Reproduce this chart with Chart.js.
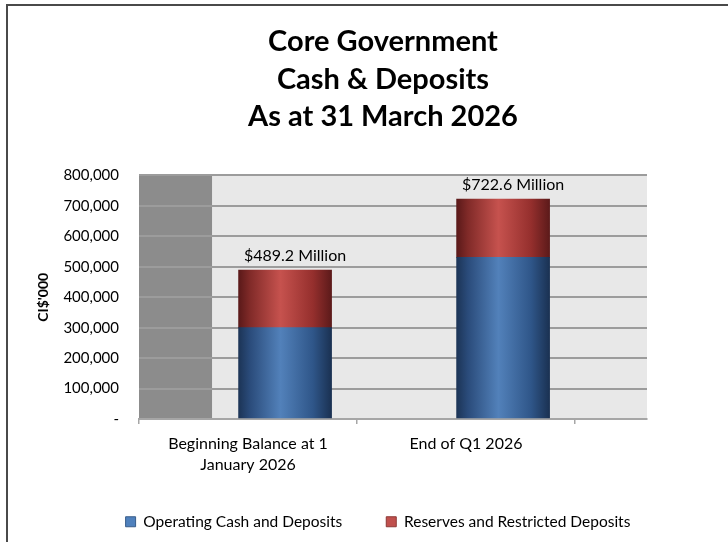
<!DOCTYPE html>
<html>
<head>
<meta charset="utf-8">
<title>Core Government Cash & Deposits</title>
<script src="https://cdn.jsdelivr.net/npm/chart.js@4"></script>
<style>
  html, body { margin: 0; padding: 0; background: #fff; overflow: hidden; }
  #frame {
    position: absolute; left: 6px; top: 4px;
    width: 750px; height: 560px;
    border-left: 2px solid #4a4a4a; border-top: 2px solid #4a4a4a;
  }
  canvas { display: block; }
</style>
</head>
<body>
<div id="frame"><canvas id="cashChart" width="750" height="560"></canvas></div>
<script>
// Balances in CI$'000
const categories = [["Beginning Balance at 1", "January 2026"], "End of Q1 2026"];
const operatingCash = [300000, 531000];
const reserves = [189200, 191600];
const seriesNames = ["Operating Cash and Deposits", "Reserves and Restricted Deposits"];

// x runs in category units; the grey wall covers the start of the first slot
const X_MAX = 2.33;
const WALL_END = 0.335;
const BAR_SHIFT = 0.17;
const BAR_WIDTH = 93;

const FONT = "Lato";

// left-to-right shading so the bars look like cylinders
function cylinder(stops, solid) {
  return (c) => {
    const chart = c.chart;
    if (c.type !== "data" || !chart.chartArea || !chart.scales.x) return solid;
    const cx = chart.scales.x.getPixelForValue(c.raw.x);
    const g = chart.ctx.createLinearGradient(cx - BAR_WIDTH / 2, 0, cx + BAR_WIDTH / 2, 0);
    stops.forEach(([at, col]) => g.addColorStop(at, col));
    return g;
  };
}

const blueStops = [[0, "#1c3456"], [0.12, "#2a4b7a"], [0.45, "#5281ba"], [0.8, "#2f5689"], [1, "#1a3152"]];
const redStops = [[0, "#5a1919"], [0.12, "#802a28"], [0.45, "#c6524e"], [0.8, "#952f2d"], [1, "#5c1a1a"]];

const toPoints = (vals) => vals.map((v, i) => ({ x: i + 0.5 + BAR_SHIFT, y: v }));

// light plot background with the dark wall on the left
const plotWall = {
  id: "plotWall",
  beforeDraw(chart) {
    const { ctx, chartArea: a, scales: { x } } = chart;
    ctx.save();
    ctx.fillStyle = "#e8e8e8";
    ctx.fillRect(a.left, a.top, a.width, a.height);
    ctx.fillStyle = "#8c8c8c";
    ctx.fillRect(a.left, a.top, x.getPixelForValue(WALL_END) - a.left, a.height);
    ctx.restore();
  }
};

// "$xxx.x Million" above each stack
const totalLabels = {
  id: "totalLabels",
  afterDatasetsDraw(chart) {
    const ctx = chart.ctx;
    const top = chart.getDatasetMeta(1);
    ctx.save();
    ctx.font = "16px " + FONT;
    ctx.fillStyle = "#000";
    ctx.textAlign = "center";
    ctx.textBaseline = "middle";
    top.data.forEach((bar, i) => {
      const total = operatingCash[i] + reserves[i];
      ctx.fillText("$" + (total / 1000).toFixed(1) + " Million", bar.x + 10, bar.y - 14);
    });
    ctx.restore();
  }
};

// legend sits a little left of centre and tucks up under the axis labels
const legendNudge = {
  id: "legendNudge",
  afterLayout(chart) {
    const lg = chart.legend;
    lg.left -= 5;
    lg.right -= 5;
    lg.top -= 7;
    lg.bottom -= 7;
  }
};

function drawChart() {
  const ctx = document.getElementById("cashChart").getContext("2d");
  new Chart(ctx, {
    type: "bar",
    data: {
      datasets: [
        {
          label: seriesNames[0],
          data: toPoints(operatingCash),
          backgroundColor: cylinder(blueStops, "#4f81bd"),
          borderWidth: 0,
          barThickness: BAR_WIDTH
        },
        {
          label: seriesNames[1],
          data: toPoints(reserves),
          backgroundColor: cylinder(redStops, "#c0504d"),
          borderWidth: 0,
          barThickness: BAR_WIDTH
        }
      ]
    },
    options: {
      responsive: false,
      animation: false,
      layout: { padding: { left: 0, right: 0, top: 0, bottom: 19.5 } },
      plugins: {
        tooltip: { enabled: false },
        title: {
          display: true,
          text: ["Core Government", "Cash & Deposits", "As at 31 March 2026"],
          color: "#000",
          font: { family: FONT, size: 29, weight: "bold", lineHeight: 1.293 },
          padding: { top: 17, bottom: 40 }
        },
        legend: {
          position: "bottom",
          labels: {
            boxWidth: 10,
            boxHeight: 10,
            padding: 44,
            color: "#000",
            font: { family: FONT, size: 15.5 },
            generateLabels: () => [
              { text: seriesNames[0], fillStyle: "#4f81bd", strokeStyle: "#385d8a", lineWidth: 1, datasetIndex: 0 },
              { text: seriesNames[1], fillStyle: "#c0504d", strokeStyle: "#8c3836", lineWidth: 1, datasetIndex: 1 }
            ]
          }
        }
      },
      scales: {
        x: {
          type: "linear",
          stacked: true,
          offset: false,
          min: 0,
          max: X_MAX,
          afterBuildTicks: (s) => { s.ticks = [0, 0.5, 1, 1.5, 2].map(v => ({ value: v })); },
          afterFit: (s) => { s.height = 58; },
          ticks: {
            autoSkip: false,
            maxRotation: 0,
            padding: 9,
            color: "#000",
            font: { family: FONT, size: 16, lineHeight: 1.32 },
            callback: (v) => {
              const i = v - 0.5;
              return Number.isInteger(i) ? categories[i] : "";
            }
          },
          grid: {
            offset: false,
            drawOnChartArea: false,
            drawTicks: true,
            tickLength: 5,
            lineWidth: 1.5,
            color: (c) => (c.tick && Number.isInteger(c.tick.value)) ? "#a6a6a6" : "rgba(0,0,0,0)"
          },
          border: { display: true, color: "#a6a6a6", width: 2 }
        },
        y: {
          stacked: true,
          min: 0,
          max: 800000,
          afterFit: (s) => { s.width = 131; },
          ticks: {
            stepSize: 100000,
            padding: 20,
            color: "#000",
            font: { family: FONT, size: 15 },
            callback: (v) => v === 0 ? "-" : v.toLocaleString("en-US")
          },
          grid: { color: "#9c9c9c", lineWidth: 2, drawTicks: false },
          border: { display: false },
          title: {
            display: true,
            text: "CI$'000",
            color: "#000",
            font: { family: FONT, size: 14, weight: "bold" },
            padding: { top: 26.6, bottom: 0 }
          }
        },
        // empty right-hand axis, only keeps space to the right of the plot
        gap: {
          type: "linear",
          position: "right",
          afterFit: (s) => { s.width = 111; },
          ticks: { display: false },
          grid: { display: false },
          border: { display: false }
        }
      }
    },
    plugins: [plotWall, totalLabels, legendNudge]
  });
}

Promise.all([
  document.fonts.load("15px " + FONT),
  document.fonts.load("bold 29px " + FONT)
]).finally(drawChart);
</script>
</body>
</html>
